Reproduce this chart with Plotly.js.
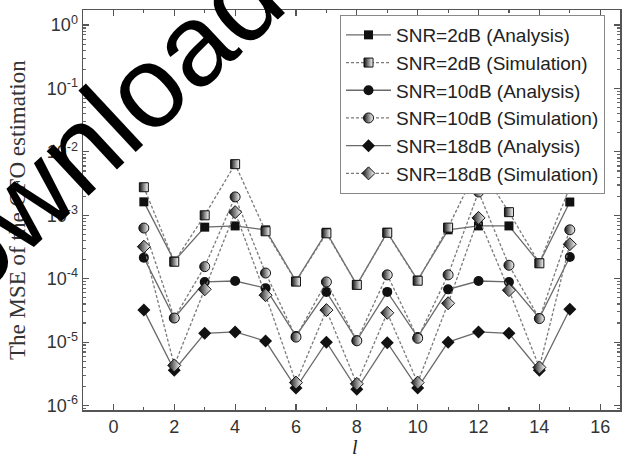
<!DOCTYPE html>
<html>
<head>
<meta charset="utf-8">
<script src="https://cdn.plot.ly/plotly-3.0.1.min.js"></script>
<style>html,body{margin:0;padding:0;background:#fff;}#chart{width:622px;height:457px;}</style>
</head>
<body>
<div id="chart"></div>
<script>
// Data
const lValues = [1,2,3,4,5,6,7,8,9,10,11,12,13,14,15];
const snr2Analysis   = [1.63e-3,1.9e-4,6.5e-4,6.8e-4,5.9e-4,9.2e-5,5.4e-4,8.0e-5,5.4e-4,9.5e-5,5.9e-4,6.8e-4,6.8e-4,1.77e-4,1.62e-3];
const snr2Simulation = [2.77e-3,1.85e-4,1.0e-3,6.4e-3,5.6e-4,9.0e-5,5.2e-4,8.0e-5,5.3e-4,9.3e-5,6.4e-4,6.2e-3,1.12e-3,1.75e-4,2.77e-3];
const snr10Analysis   = [2.15e-4,2.4e-5,8.9e-5,9.2e-5,7.1e-5,1.25e-5,6.2e-5,1.07e-5,6.2e-5,1.2e-5,6.8e-5,9.2e-5,8.9e-5,2.4e-5,2.2e-4];
const snr10Simulation = [6.3e-4,2.4e-5,1.55e-4,1.95e-3,1.23e-4,1.2e-5,8.9e-5,1.05e-5,1.15e-4,1.15e-5,1.15e-4,2.33e-3,1.63e-4,2.35e-5,5.9e-4];
const snr18Analysis   = [3.2e-5,3.6e-6,1.38e-5,1.45e-5,1.04e-5,1.9e-6,1.0e-5,1.8e-6,9.8e-6,1.9e-6,1.0e-5,1.45e-5,1.38e-5,3.6e-6,3.3e-5];
const snr18Simulation = [3.2e-4,4.3e-6,6.8e-5,1.12e-3,5.5e-5,2.3e-6,3.2e-5,2.2e-6,2.9e-5,2.3e-6,4.1e-5,9.1e-4,6.6e-5,4.0e-6,3.5e-4];
const seriesNames = ['SNR=2dB (Analysis)','SNR=2dB (Simulation)','SNR=10dB (Analysis)','SNR=10dB (Simulation)','SNR=18dB (Analysis)','SNR=18dB (Simulation)'];
const xTickVals = [0,2,4,6,8,10,12,14,16];
const yTickVals = [1e-6,1e-5,1e-4,1e-3,1e-2,1e-1,1];
const yTickText = ['10<sup>-6</sup>','10<sup>-5</sup>','10<sup>-4</sup>','10<sup>-3</sup>','10<sup>-2</sup>','10<sup>-1</sup>','10<sup>0</sup>'];
const yTitle = 'The MSE of the CFO estimation';
const xTitle = 'l';
const watermark = 'Downloaded';

const ink = '#111';
function analysis(y, name, symbol, size){
  return {x:lValues, y:y, name:name, type:'scatter', mode:'lines+markers',
    line:{color:'#6a6a6a', width:1.3},
    marker:{symbol:symbol, size:size, color:ink, line:{color:ink, width:0}}};
}
function simulation(y, name, symbol, size){
  return {x:lValues, y:y, name:name, type:'scatter', mode:'lines+markers',
    line:{color:'#7a7a7a', width:1.3, dash:'3px,2px'},
    marker:{symbol:symbol, size:size, color:ink, gradient:{type:'horizontal', color:'#ffffff'},
      line:{color:ink, width:1}}};
}
const data = [
  analysis(snr2Analysis, seriesNames[0], 'square', 9),
  simulation(snr2Simulation, seriesNames[1], 'square', 9),
  analysis(snr10Analysis, seriesNames[2], 'circle', 10),
  simulation(snr10Simulation, seriesNames[3], 'circle', 10),
  analysis(snr18Analysis, seriesNames[4], 'diamond', 10),
  simulation(snr18Simulation, seriesNames[5], 'diamond', 10)
];

const axisCommon = {showgrid:false, zeroline:false, showline:true, linecolor:'#555', linewidth:1.5,
  mirror:'ticks', ticks:'inside', tickcolor:'#555', tickwidth:1.2,
  tickfont:{family:'Liberation Sans, Arial, sans-serif', size:18, color:'#333'}};

const layout = {
  width:622, height:457,
  margin:{l:83, r:2, t:10, b:47},
  paper_bgcolor:'#fff', plot_bgcolor:'#fff',
  showlegend:true,
  xaxis:Object.assign({}, axisCommon, {range:[-1,16.65], tickvals:xTickVals, ticklen:6,
    minor:{dtick:1, tick0:0, ticks:'inside', ticklen:3, tickcolor:'#555'}}),
  yaxis:Object.assign({}, axisCommon, {type:'log', range:[-6.07,0.237], tickvals:yTickVals, ticktext:yTickText,
    ticklen:6, minor:{dtick:'D1', ticks:'inside', ticklen:3, tickcolor:'#666'}}),
  legend:{x:0.4786, y:0.9875, xanchor:'left', yanchor:'top', bgcolor:'#fff', bordercolor:'#888', borderwidth:1,
    font:{family:'Liberation Sans, Arial, sans-serif', size:19, color:'#222'}, itemwidth:45, tracegroupgap:0},
  annotations:[
    {text:yTitle, xref:'paper', yref:'paper', x:-0.123, y:0.5, xanchor:'center', yanchor:'middle',
     textangle:-90, showarrow:false, font:{family:'Liberation Serif, Times New Roman, serif', size:23, color:'#333'}},
    {text:'<i>'+xTitle+'</i>', xref:'paper', yref:'paper', x:0.507, y:-0.06, xanchor:'center', yanchor:'top',
     showarrow:false, font:{family:'Liberation Serif, Times New Roman, serif', size:20, color:'#222'}},
    {text:watermark, xref:'paper', yref:'paper', x:0.0726, y:0.75, xanchor:'center', yanchor:'middle',
     textangle:-43, showarrow:false, font:{family:'Liberation Sans, Arial, sans-serif', size:116, color:'#000'}}
  ]
};
Plotly.newPlot('chart', data, layout, {displayModeBar:false, staticPlot:true});
</script>
</body>
</html>
